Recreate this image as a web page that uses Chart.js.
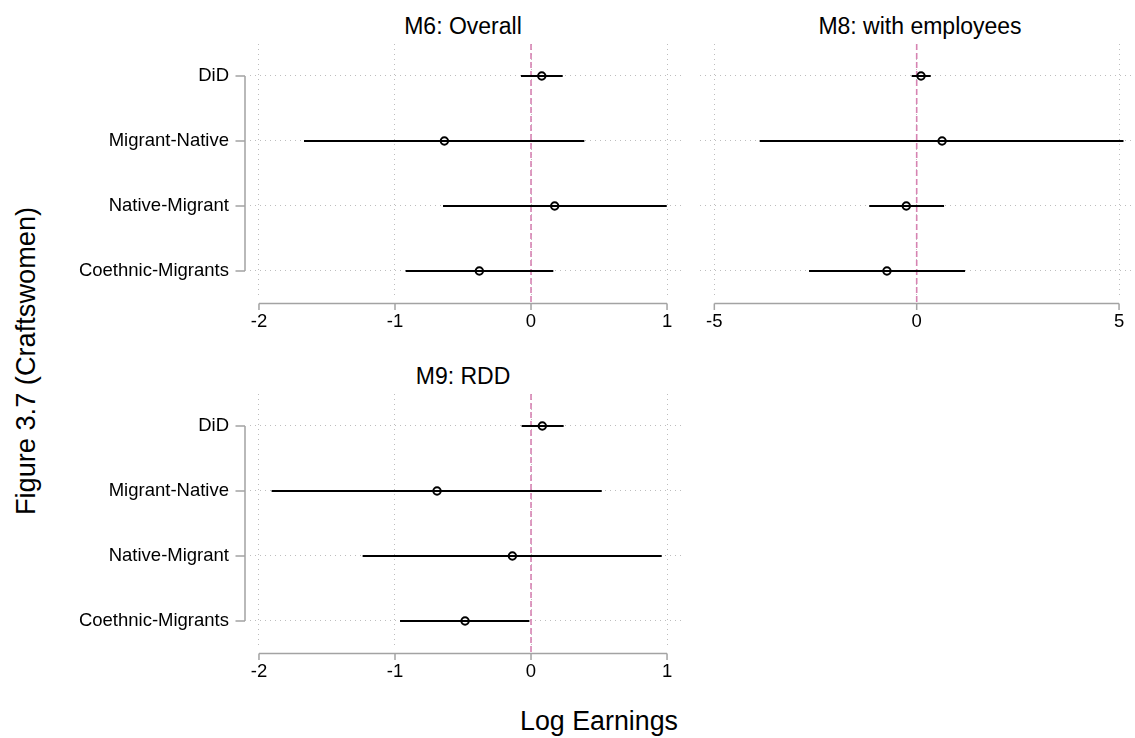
<!DOCTYPE html>
<html>
<head>
<meta charset="utf-8">
<title>Figure 3.7 (Craftswomen)</title>
<script src="https://cdn.jsdelivr.net/npm/chart.js@4/dist/chart.umd.min.js"></script>
<style>
  html, body { margin: 0; padding: 0; background: #fff; }
  body { width: 1135px; height: 738px; position: relative; overflow: hidden;
         font-family: "Liberation Sans", Arial, Helvetica, sans-serif; color: #000; }
  .panel { position: absolute; }
  .txt { position: absolute; white-space: nowrap; line-height: 1; transform: translate(-50%, -50%); }
</style>
</head>
<body>

<div class="txt" style="left:463px; top:25.5px; font-size:23px;">M6: Overall</div>
<div class="txt" style="left:920px; top:25.5px; font-size:23px;">M8: with employees</div>
<div class="txt" style="left:463px; top:376px; font-size:23px;">M9: RDD</div>
<div class="txt" style="left:26px; top:361px; font-size:27.2px; transform: translate(-50%, -50%) rotate(-90deg);">Figure 3.7 (Craftswomen)</div>
<div class="txt" style="left:599px; top:721px; font-size:26.8px;">Log Earnings</div>

<div class="panel" style="left:0; top:0; width:700px; height:345px;"><canvas id="m6"></canvas></div>
<div class="panel" style="left:690px; top:0; width:448px; height:345px;"><canvas id="m8"></canvas></div>
<div class="panel" style="left:0; top:350px; width:700px; height:345px;"><canvas id="m9"></canvas></div>

<script>
// Contrast labels (top to bottom)
const categories = ['DiD', 'Migrant-Native', 'Native-Migrant', 'Coethnic-Migrants'];

// M6: Overall — point estimates and 95% CI bounds
const m6Est = [0.079, -0.637, 0.174, -0.380];
const m6Lo  = [-0.074, -1.669, -0.647, -0.922];
const m6Hi  = [0.233, 0.392, 0.998, 0.164];

// M8: with employees
const m8Est = [0.107, 0.627, -0.257, -0.735];
const m8Lo  = [-0.124, -3.880, -1.173, -2.660];
const m8Hi  = [0.347, 5.110, 0.676, 1.195];

// M9: RDD
const m9Est = [0.083, -0.691, -0.137, -0.485];
const m9Lo  = [-0.069, -1.907, -1.238, -0.963];
const m9Hi  = [0.240, 0.520, 0.961, -0.012];

// Tick labels on the x axes
const ticksNarrow = [-2, -1, 0, 1];
const ticksWide = [-5, 0, 5];

const FONT = '"Liberation Sans", Arial, Helvetica, sans-serif';
Chart.defaults.font.family = FONT;
Chart.defaults.color = '#000';

const GRID = '#bdbdbd';
const AXIS = '#a3a3a3';
const REF = '#d683b2';

// Stata-style axes: x axis line offset below the plot region, y bracket, and a dashed zero line
const stataAxes = {
  id: 'stataAxes',
  beforeDatasetsDraw(chart, args, o) {
    const { ctx, chartArea } = chart;
    const x0 = chart.scales.x.getPixelForValue(0);
    ctx.save();
    ctx.strokeStyle = REF;
    ctx.lineWidth = 1.6;
    ctx.setLineDash([6, 3]);
    ctx.beginPath();
    ctx.moveTo(x0, chartArea.top);
    ctx.lineTo(x0, chartArea.bottom + o.gap);
    ctx.stroke();
    ctx.restore();
  },
  afterDraw(chart, args, o) {
    const { ctx, chartArea } = chart;
    const xs = chart.scales.x, ys = chart.scales.y;
    ctx.save();
    ctx.strokeStyle = AXIS;
    ctx.lineWidth = 1.5;
    ctx.setLineDash([]);
    // x axis
    const yA = chartArea.bottom + o.gap;
    const px = xs.ticks.map(t => xs.getPixelForValue(t.value));
    ctx.beginPath();
    ctx.moveTo(px[0], yA);
    ctx.lineTo(px[px.length - 1], yA);
    px.forEach(p => { ctx.moveTo(p, yA); ctx.lineTo(p, yA + 6.5); });
    ctx.stroke();
    // y axis bracket
    if (o.yLine) {
      const xA = chartArea.left - 5;
      const py = ys.ticks.map(t => ys.getPixelForValue(t.value));
      ctx.beginPath();
      ctx.moveTo(xA, py[0]);
      ctx.lineTo(xA, py[py.length - 1]);
      py.forEach(p => { ctx.moveTo(xA, p); ctx.lineTo(xA - 9.5, p); });
      ctx.stroke();
    }
    ctx.restore();
  }
};

function buildDatasets(est, lo, hi) {
  const ds = categories.map((c, i) => ({
    label: c + ' CI',
    data: [{ x: lo[i], y: i }, { x: hi[i], y: i }],
    showLine: true,
    borderColor: '#000',
    borderWidth: 2,
    pointRadius: 0,
    fill: false
  }));
  ds.push({
    label: 'Estimate',
    data: est.map((v, i) => ({ x: v, y: i })),
    pointStyle: 'circle',
    pointRadius: 3.7,
    pointBorderWidth: 2,
    borderColor: '#000',
    backgroundColor: '#fff',
    showLine: false
  });
  return ds;
}

function makePanel(id, est, lo, hi, xMin, xMax, xTicks, opts) {
  return new Chart(document.getElementById(id), {
    type: 'scatter',
    data: { datasets: buildDatasets(est, lo, hi) },
    options: {
      responsive: true,
      maintainAspectRatio: false,
      animation: false,
      events: [],
      layout: { padding: { top: 44, right: opts.rightPad, bottom: 0, left: 0 } },
      plugins: {
        legend: { display: false },
        tooltip: { enabled: false },
        stataAxes: { gap: 6.5, yLine: opts.showLabels }
      },
      scales: {
        x: {
          type: 'linear',
          min: xMin,
          max: xMax,
          afterBuildTicks: s => { s.ticks = xTicks.map(v => ({ value: v })); },
          afterFit: s => { s.height = 48; s.paddingLeft = 0; s.paddingRight = 0; },
          grid: { color: GRID, lineWidth: 1, drawTicks: false },
          border: { display: false, dash: [1, 4] },
          ticks: {
            padding: 14,
            autoSkip: false,
            maxRotation: 0,
            color: '#000',
            font: { size: 18.5 },
            callback: v => String(v)
          }
        },
        y: {
          type: 'linear',
          reverse: true,
          min: -0.492,
          max: 3.4,
          afterBuildTicks: s => { s.ticks = categories.map((c, i) => ({ value: i })); },
          afterFit: s => { s.width = opts.yWidth; s.paddingTop = 0; s.paddingBottom = 0; },
          grid: { color: GRID, lineWidth: 1, drawTicks: false },
          border: { display: false, dash: [1, 4] },
          ticks: {
            display: opts.showLabels,
            padding: 21,
            color: '#000',
            font: { size: 18.5 },
            callback: v => categories[v]
          }
        }
      }
    },
    plugins: [stataAxes]
  });
}

makePanel('m6', m6Est, m6Lo, m6Hi, -2.066, 1.11, ticksNarrow, { rightPad: 18, yWidth: 250, showLabels: true });
makePanel('m8', m8Est, m8Lo, m8Hi, -5.354, 5.32, ticksWide, { rightPad: 2, yWidth: 10, showLabels: false });
makePanel('m9', m9Est, m9Lo, m9Hi, -2.066, 1.11, ticksNarrow, { rightPad: 18, yWidth: 250, showLabels: true });
</script>
</body>
</html>
